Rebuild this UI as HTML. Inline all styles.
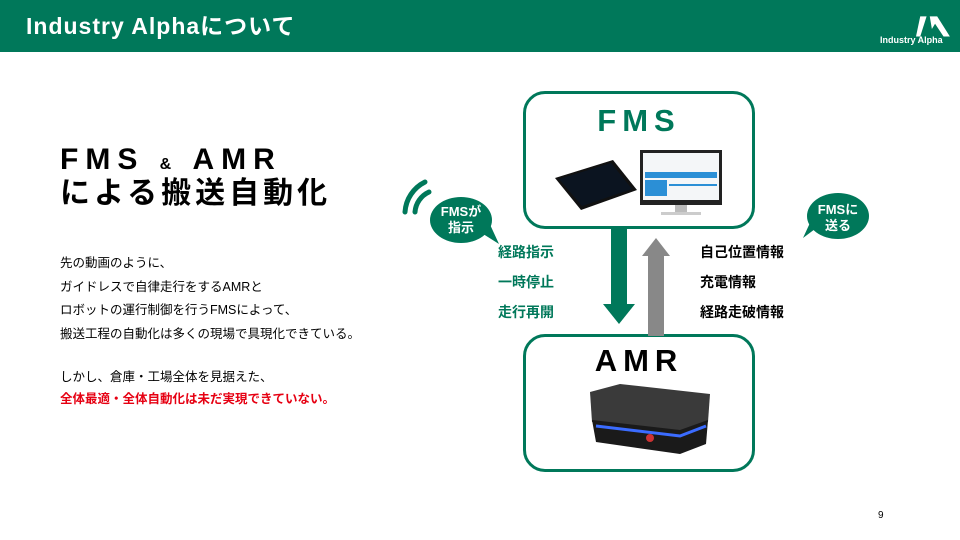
<!DOCTYPE html>
<html><head><meta charset="utf-8"><style>
*{margin:0;padding:0;box-sizing:border-box}
body{width:960px;height:540px;background:#fff;position:relative;overflow:hidden;font-family:"Liberation Sans","Noto Sans CJK JP",sans-serif}
.a{position:absolute}
.hdr{left:0;top:0;width:960px;height:52px;background:#00785a}
.g{color:#00785a}
.box{border:3px solid #00785a;border-radius:22px;background:#fff}
.lab{font-weight:bold;font-size:14px;line-height:14px}
</style></head><body>
<div class="a hdr"></div>
<div class="a" style="left:26px;top:12px;color:#fff;font-size:23px;letter-spacing:1px;font-weight:bold;line-height:28px">Industry Alphaについて</div>
<svg class="a" style="left:916px;top:16px" width="36" height="24" viewBox="0 0 34 22"><polygon points="4,0 10,0 4,19 0,19" fill="#fff"/><polygon points="13,0 20,0 32,19 26,19 18,7 15,12" fill="#fff"/></svg>
<div class="a" style="left:880px;top:35px;color:#fff;font-size:9px;font-weight:bold">Industry Alpha</div>

<div class="a" style="left:60px;top:142px;font-size:30px;font-weight:bold;letter-spacing:7px;line-height:36px">FMS <span style="font-size:16px">&amp;</span> AMR</div>
<div class="a" style="left:60px;top:176px;font-size:30px;font-weight:bold;letter-spacing:4px;line-height:36px">による搬送自動化</div>
<div class="a" style="left:60px;top:252px;font-size:12.5px;line-height:23.5px">先の動画のように、<br>ガイドレスで自律走行をするAMRと<br>ロボットの運行制御を行うFMSによって、<br>搬送工程の自動化は多くの現場で具現化できている。</div>
<div class="a" style="left:60px;top:366px;font-size:12.5px;line-height:22px">しかし、倉庫・工場全体を見据えた、<br><b style="color:#e60012">全体最適・全体自動化は未だ実現できていない。</b></div>

<div class="a box" style="left:523px;top:91px;width:232px;height:138px"></div>
<div class="a g" style="left:523px;top:103px;width:232px;text-align:center;font-size:31px;font-weight:bold;letter-spacing:6px">FMS</div>
<svg class="a" style="left:553px;top:148px" width="170" height="70">
<polygon points="2,30 60,12 84,42 28,62" fill="#111"/><polygon points="6,31 58,15 79,41 29,58" fill="#0b1420"/>
<rect x="87" y="2" width="82" height="55" fill="#222"/><rect x="90" y="5" width="76" height="47" fill="#f4f6f8"/>
<rect x="92" y="24" width="72" height="6" fill="#2b8fd6"/><rect x="92" y="32" width="22" height="16" fill="#2b8fd6"/><rect x="116" y="36" width="48" height="2" fill="#2b8fd6"/>
<rect x="122" y="57" width="12" height="8" fill="#bbb"/><rect x="108" y="64" width="40" height="3" fill="#ccc"/>
</svg>

<div class="a box" style="left:523px;top:334px;width:232px;height:138px"></div>
<div class="a" style="left:523px;top:343px;width:232px;text-align:center;font-size:31px;font-weight:bold;letter-spacing:6px">AMR</div>
<svg class="a" style="left:580px;top:382px" width="135" height="75">
<polygon points="10,10 40,2 130,12 128,40 100,50 12,40" fill="#3a3a3a"/>
<polygon points="12,38 100,48 128,38 126,62 100,72 16,60" fill="#1a1a1a"/>
<path d="M16,44 L100,54 L126,44" stroke="#3b6cff" stroke-width="3" fill="none"/>
<circle cx="70" cy="56" r="4" fill="#c33"/>
</svg>

<svg class="a" style="left:600px;top:228px" width="80" height="108">
<rect x="11" y="0" width="16" height="76" fill="#00785a"/><polygon points="3,76 35,76 19,96" fill="#00785a"/>
<rect x="48" y="28" width="16" height="80" fill="#888"/><polygon points="42,28 70,28 56,10" fill="#888"/>
</svg>

<div class="a lab g" style="left:498px;top:245px">経路指示</div>
<div class="a lab g" style="left:498px;top:275px">一時停止</div>
<div class="a lab g" style="left:498px;top:305px">走行再開</div>
<div class="a lab" style="left:700px;top:245px">自己位置情報</div>
<div class="a lab" style="left:700px;top:275px">充電情報</div>
<div class="a lab" style="left:700px;top:305px">経路走破情報</div>

<svg class="a" style="left:395px;top:176px" width="110" height="72">
<path d="M30,6 A36,36 0 0 0 10,36" stroke="#00785a" stroke-width="5" fill="none" stroke-linecap="round"/>
<path d="M34,16 A24,24 0 0 0 20,36" stroke="#00785a" stroke-width="5" fill="none" stroke-linecap="round"/>
<ellipse cx="66" cy="44" rx="31" ry="23" fill="#00785a"/><polygon points="85,56 104,68 92,42" fill="#00785a"/>
</svg>
<div class="a" style="left:430px;top:204px;width:62px;text-align:center;color:#fff;font-size:13px;font-weight:bold;line-height:16px">FMSが<br>指示</div>
<svg class="a" style="left:795px;top:190px" width="80" height="56">
<ellipse cx="43" cy="26" rx="31" ry="23" fill="#00785a"/><polygon points="24,36 8,48 20,22" fill="#00785a"/>
</svg>
<div class="a" style="left:807px;top:202px;width:62px;text-align:center;color:#fff;font-size:13px;font-weight:bold;line-height:16px">FMSに<br>送る</div>
<div class="a" style="left:878px;top:510px;font-size:10px">9</div>
</body></html>
